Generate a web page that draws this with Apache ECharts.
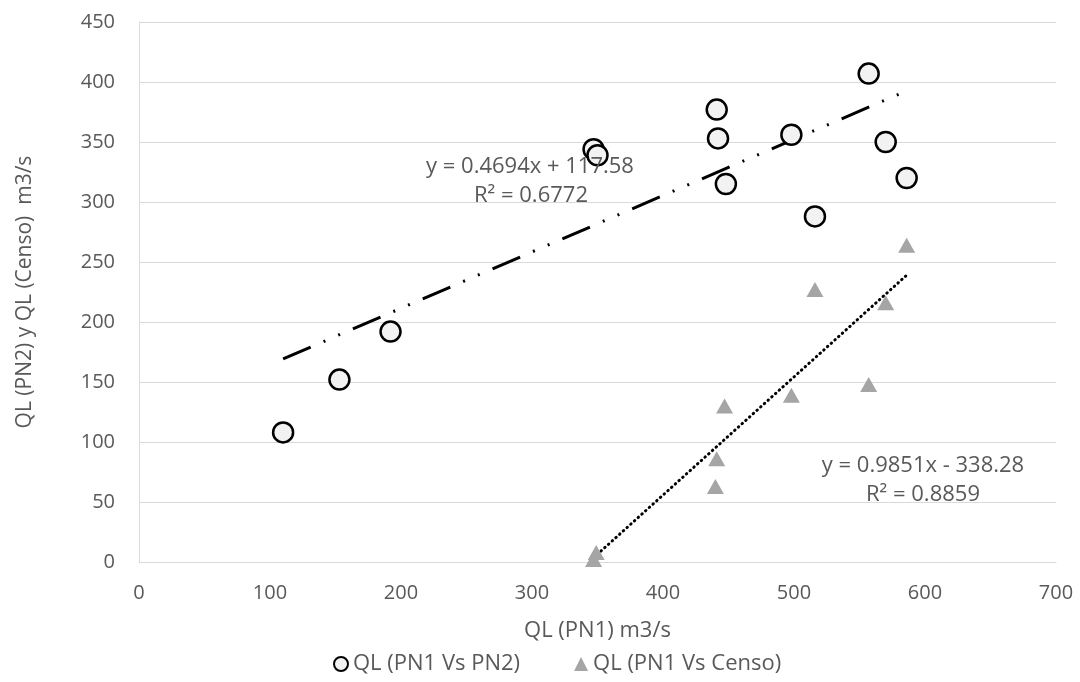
<!DOCTYPE html>
<html>
<head>
<meta charset="utf-8">
<script src="https://cdn.jsdelivr.net/npm/echarts@6/dist/echarts.min.js"></script>
<style>
  html, body { margin: 0; padding: 0; background: #fff; }
  #chart { width: 1080px; height: 682px; }
</style>
</head>
<body>
<div id="chart"></div>
<script>
// QL (PN1) vs QL (PN2)
const xPN1 = [110, 153, 192, 347, 350, 441, 442, 448, 498, 516, 557, 570, 586];
const yPN2 = [108, 152, 192, 344, 339, 377, 353, 315, 356, 288, 407, 350, 320];

// QL (PN1) vs QL (Censo)
const xCenso = [347, 349, 440, 441, 447, 498, 516, 557, 570, 586];
const yCenso = [2, 8, 63, 86, 130, 139, 227, 148, 216, 264];

// trend lines (as printed on the chart)
const trendPN2 = { slope: 0.4694, intercept: 117.58, from: 110, to: 586 };
const trendCenso = { slope: 0.9851, intercept: -338.28, from: 347, to: 586 };

const xTicks = { min: 0, max: 700, interval: 100 };
const yTicks = { min: 0, max: 450, interval: 50 };

const gray = '#595959';
const gridColor = '#d9d9d9';
const font = 'Open Sans, sans-serif';

function linePts(t) {
  return [
    [t.from, t.slope * t.from + t.intercept],
    [t.to, t.slope * t.to + t.intercept]
  ];
}

function eqText(text, x, y) {
  return {
    type: 'text',
    x: x,
    y: y,
    z: 10,
    style: { text: text, fill: gray, fontSize: 22, fontFamily: font, align: 'center', verticalAlign: 'middle' }
  };
}

const chart = echarts.init(document.getElementById('chart'));

const option = {
  animation: false,
  backgroundColor: '#fff',
  grid: { left: 139, right: 24, top: 22, bottom: 120 },
  legend: {
    bottom: 2,
    left: 328,
    itemWidth: 14,
    itemHeight: 14,
    itemGap: 54,
    textStyle: { color: gray, fontSize: 22, fontFamily: font },
    data: ['QL (PN1 Vs PN2)', 'QL (PN1 Vs Censo)']
  },
  xAxis: {
    type: 'value',
    min: xTicks.min,
    max: xTicks.max,
    interval: xTicks.interval,
    name: 'QL (PN1) m3/s',
    nameLocation: 'middle',
    nameGap: 58,
    nameTextStyle: { color: gray, fontSize: 22, fontFamily: font },
    axisLine: { lineStyle: { color: gridColor } },
    axisTick: { show: false },
    axisLabel: { color: gray, fontSize: 20, margin: 21, fontFamily: font },
    splitLine: { show: false }
  },
  yAxis: {
    type: 'value',
    min: yTicks.min,
    max: yTicks.max,
    interval: yTicks.interval,
    name: 'QL (PN2) y QL (Censo)  m3/s',
    nameLocation: 'middle',
    nameGap: 103,
    nameTextStyle: { color: gray, fontSize: 21, fontFamily: font },
    axisLine: { show: true, lineStyle: { color: gridColor } },
    axisTick: { show: false },
    axisLabel: { color: gray, fontSize: 20, margin: 24, fontFamily: font },
    splitLine: { lineStyle: { color: gridColor, width: 1 } }
  },
  graphic: [
    eqText('y = 0.4694x + 117.58', 530, 167),
    eqText('R² = 0.6772', 531, 196),
    eqText('y = 0.9851x - 338.28', 923, 466),
    eqText('R² = 0.8859', 923, 495)
  ],
  series: [
    {
      name: 'trend PN2',
      type: 'line',
      data: linePts(trendPN2),
      symbol: 'none',
      lineStyle: { color: '#000', width: 3, type: [30, 14, 2, 14, 2, 14], cap: 'butt' },
      z: 1
    },
    {
      name: 'trend Censo',
      type: 'line',
      data: linePts(trendCenso),
      symbol: 'none',
      lineStyle: { color: '#000', width: 3, type: [0.5, 4.5], cap: 'round' },
      z: 1
    },
    {
      name: 'QL (PN1 Vs PN2)',
      type: 'scatter',
      data: xPN1.map((x, i) => [x, yPN2[i]]),
      symbol: 'circle',
      symbolSize: 20,
      itemStyle: { color: '#f2f2f2', borderColor: '#000', borderWidth: 2.5, opacity: 1 },
      z: 3
    },
    {
      name: 'QL (PN1 Vs Censo)',
      type: 'scatter',
      data: xCenso.map((x, i) => [x, yCenso[i]]),
      symbol: 'triangle',
      symbolSize: [17, 15],
      itemStyle: { color: '#a5a5a5', opacity: 1 },
      z: 2
    }
  ]
};

chart.setOption(option);
</script>
</body>
</html>
